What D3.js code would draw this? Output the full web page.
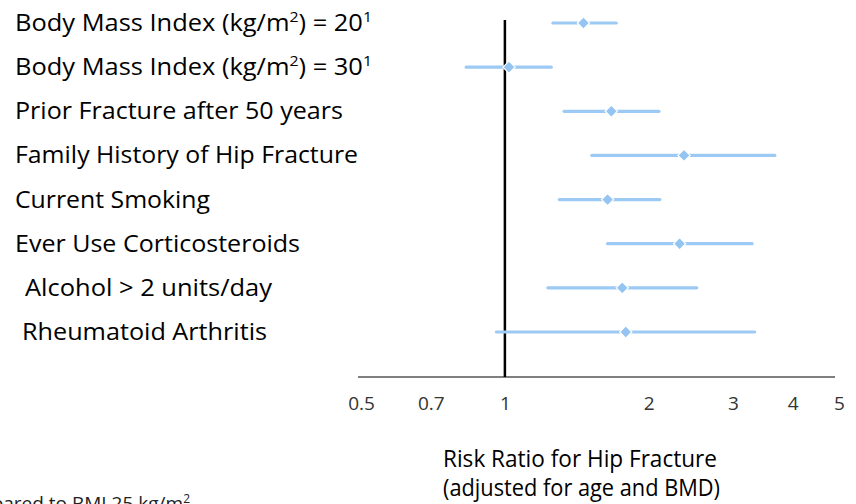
<!DOCTYPE html>
<html>
<head>
  <meta charset="utf-8">
  <title>Risk Ratio for Hip Fracture</title>
  <script src="https://d3js.org/d3.v7.min.js"></script>
  <style>
    body { margin: 0; background: #fff; }
    text { font-family: "Open Sans", "Noto Sans", sans-serif; }
  </style>
</head>
<body>
  <div id="chart"></div>

  <script>
    // Risk factors (rows, top to bottom)
    var factors = [
      "Body Mass Index (kg/m2) = 20",
      "Body Mass Index (kg/m2) = 30",
      "Prior Fracture after 50 years",
      "Family History of Hip Fracture",
      "Current Smoking",
      "Ever Use Corticosteroids",
      "Alcohol > 2 units/day",
      "Rheumatoid Arthritis"
    ];
    // Risk ratio estimates and 95% CI
    var riskRatio = [1.46, 1.02, 1.67, 2.37, 1.64, 2.32, 1.76, 1.79];
    var lowerCI   = [1.26, 0.83, 1.33, 1.52, 1.30, 1.64, 1.23, 0.96];
    var upperCI   = [1.71, 1.25, 2.10, 3.67, 2.11, 3.29, 2.52, 3.33];
    var tickValues = [0.5, 0.7, 1, 2, 3, 4, 5];

    var width = 856, height = 504;

    var svg = d3.select("#chart")
      .append("svg")
      .attr("width", width)
      .attr("height", height);

    // log scale for risk ratio, 1 sits at x=505
    var x = d3.scaleLog().domain([0.5, 5]).range([361, 839]);
    var y = d3.scalePoint().domain(factors).range([23, 332]);

    var rows = factors.map(function(f, i) {
      return { name: f, rr: riskRatio[i], lo: lowerCI[i], hi: upperCI[i] };
    });

    // x axis
    var axisY = 377;
    var xAxis = d3.axisBottom(x)
      .tickValues(tickValues)
      .tickSize(0)
      .tickPadding(20)
      .tickFormat(function(d) { return String(d); });
    var gx = svg.append("g")
      .attr("transform", "translate(0," + axisY + ")")
      .call(xAxis);
    gx.select(".domain")
      .attr("stroke", "#555")
      .attr("stroke-width", 1.6)
      .attr("d", "M" + (x(0.5) - 3) + ",0H" + (x(5) - 4));
    gx.selectAll(".tick text")
      .attr("fill", "#333")
      .attr("font-size", 19)
      .attr("font-family", "\"Open Sans\", sans-serif");

    // reference line at RR = 1
    svg.append("line")
      .attr("x1", x(1)).attr("x2", x(1))
      .attr("y1", 20).attr("y2", axisY)
      .attr("stroke", "#000")
      .attr("stroke-width", 2.5);

    // confidence intervals
    svg.selectAll(".ci")
      .data(rows)
      .enter().append("line")
      .attr("class", "ci")
      .attr("x1", function(d) { return x(d.lo); })
      .attr("x2", function(d) { return x(d.hi); })
      .attr("y1", function(d) { return y(d.name); })
      .attr("y2", function(d) { return y(d.name); })
      .attr("stroke", "#9ccaf4")
      .attr("stroke-width", 3.2)
      .attr("stroke-linecap", "round");

    // point estimates (diamonds)
    svg.selectAll(".pt")
      .data(rows)
      .enter().append("path")
      .attr("class", "pt")
      .attr("d", d3.symbol().type(d3.symbolDiamond2).size(95))
      .attr("transform", function(d) { return "translate(" + x(d.rr) + "," + y(d.name) + ")"; })
      .attr("fill", "#94c5f2")
      .attr("stroke", "#fff")
      .attr("stroke-width", 1.2);

    // row labels
    var labelLeft = [15, 15, 15, 15, 15, 15, 25, 22];
    var labelRight = [372, 372, 343, 358, 210, 300, 272, 267];
    var labels = svg.selectAll(".lab")
      .data(rows)
      .enter().append("text")
      .attr("class", "lab")
      .attr("x", function(d, i) { return labelLeft[i]; })
      .attr("y", function(d) { return y(d.name) + 8; })
      .attr("font-size", 24)
      .attr("fill", "#000")
      .attr("textLength", function(d, i) { return labelRight[i] - labelLeft[i]; })
      .attr("lengthAdjust", "spacingAndGlyphs");

    labels.each(function(d) {
      var t = d3.select(this);
      var m = d.name.match(/^(.*\(kg\/m)2(\) = \d+)$/);
      if (m) {
        t.append("tspan").text(m[1]);
        t.append("tspan").attr("font-size", 15).attr("dy", -9).text("2");
        t.append("tspan").attr("dy", 9).text(m[2]);
        t.append("tspan").attr("font-size", 15).attr("dy", -9).text("1");
      } else {
        t.text(d.name);
      }
    });

    // axis title
    var title = svg.append("text")
      .attr("font-size", 23)
      .attr("fill", "#000");
    title.append("tspan").attr("x", 443).attr("y", 467)
      .attr("textLength", 274).attr("lengthAdjust", "spacingAndGlyphs")
      .text("Risk Ratio for Hip Fracture");
    title.append("tspan").attr("x", 443).attr("y", 496)
      .attr("textLength", 277).attr("lengthAdjust", "spacingAndGlyphs")
      .text("(adjusted for age and BMD)");

    // footnote, cut off at the left edge as in the source
    var foot = svg.append("text")
      .attr("x", 190).attr("y", 510)
      .attr("text-anchor", "end")
      .attr("font-size", 19)
      .attr("fill", "#222");
    foot.append("tspan").attr("font-size", 12).attr("dy", -7).text("1");
    foot.append("tspan").attr("dy", 7).text("Compared to BMI 25 kg/m");
    foot.append("tspan").attr("font-size", 12).attr("dy", -7).text("2");
  </script>
</body>
</html>
